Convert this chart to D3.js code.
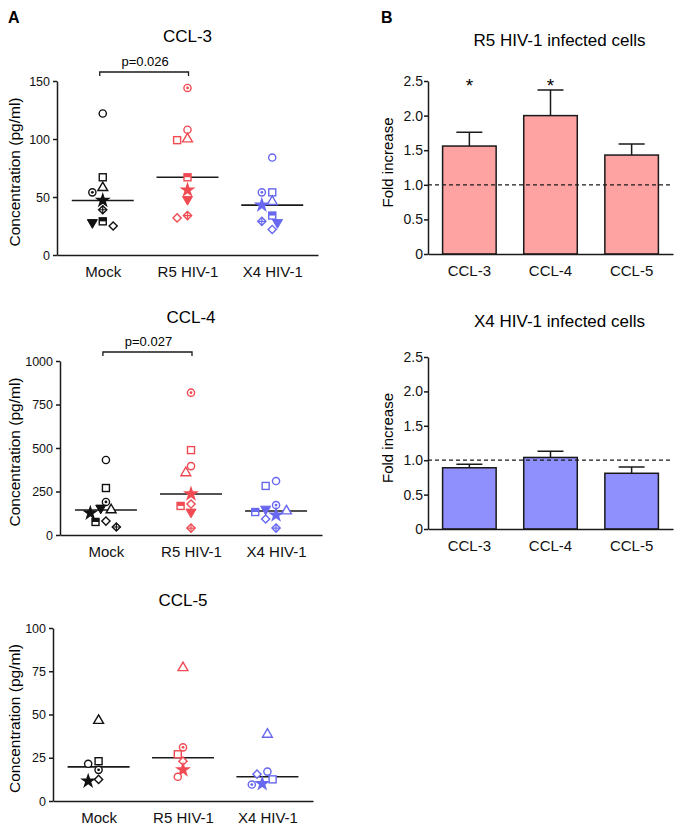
<!DOCTYPE html>
<html>
<head>
<meta charset="utf-8">
<script src="https://cdnjs.cloudflare.com/ajax/libs/d3/7.8.5/d3.min.js"></script>
<style>
  body { margin: 0; background: #fff; }
  svg { display: block; font-family: "Liberation Sans", Arial, Helvetica, sans-serif; }
</style>
</head>
<body>
<div id="chart"></div>
<script>
// ---- data ----
var groups = ["Mock", "R5 HIV-1", "X4 HIV-1"];
var donors9 = ["circle", "square", "triangle", "dotCircle", "star", "crossDiamond", "halfSquare", "diamond", "downTriangle"];
var donors6 = ["circle", "square", "triangle", "dotCircle", "star", "diamond"];

// CCL-3 (pg/ml), one value per donor (donors9 order)
var ccl3Mock = [122, 67, 58, 54, 47, 39, 29, 25, 28];
var ccl3R5   = [108, 99, 100, 144, 56, 34, 67, 32, 48];
var ccl3X4   = [84, 54, 46, 54, 43, 29, 34, 22, 28];
var ccl3Ticks = [0, 50, 100, 150];

// CCL-4 (pg/ml)
var ccl4Mock = [431, 270, 144, 190, 126, 46, 75, 80, 155];
var ccl4R5   = [396, 488, 357, 818, 236, 40, 167, 178, 132];
var ccl4X4   = [310, 282, 138, 172, 115, 40, 132, 92, 149];
var ccl4Ticks = [0, 250, 500, 750, 1000];

// CCL-5 (pg/ml), donors6 order
var ccl5Mock = [21.5, 23, 46.5, 18, 11.5, 12.5];
var ccl5R5   = [14, 27, 77, 31, 18, 23];
var ccl5X4   = [17, 12.5, 38.5, 9.5, 10, 15.5];
var ccl5Ticks = [0, 25, 50, 75, 100];

// panel B: fold increase, mean and SEM
var foldCats = ["CCL-3", "CCL-4", "CCL-5"];
var r5Fold  = [1.56, 2.00, 1.43];
var r5Sem   = [0.20, 0.37, 0.16];
var r5Stars = ["*", "*", ""];
var x4Fold  = [0.89, 1.04, 0.81];
var x4Sem   = [0.05, 0.09, 0.09];
var x4Stars = ["", "", ""];
var foldTicks = [0, 0.5, 1.0, 1.5, 2.0, 2.5];

var groupColor = d3.scaleOrdinal().domain(groups).range(["#111111", "#f04b53", "#6767f0"]);
var ink = "#1a1a1a";

var svg = d3.select("#chart").append("svg")
    .attr("width", 685)
    .attr("height", 840);

// panel letters
svg.append("text").attr("x", 8).attr("y", 23).attr("font-size", 16).attr("font-weight", "bold").text("A");
svg.append("text").attr("x", 381).attr("y", 23).attr("font-size", 16).attr("font-weight", "bold").text("B");

function styleAxis(g, fs) {
  g.attr("font-family", null).attr("font-size", fs);
  g.selectAll(".domain").attr("stroke", ink).attr("stroke-width", 1.5);
  g.selectAll(".tick line").attr("stroke", ink).attr("stroke-width", 1.5);
  g.selectAll(".tick text").attr("fill", "#111");
}

// one marker per donor shape
function drawMarker(g, shape, col) {
  var sw = 1.4;
  if (shape === "circle") {
    g.append("circle").attr("r", 3.6).attr("fill", "#fff").attr("stroke", col).attr("stroke-width", sw);
  } else if (shape === "dotCircle") {
    g.append("circle").attr("r", 3.6).attr("fill", "#fff").attr("stroke", col).attr("stroke-width", sw);
    g.append("circle").attr("r", 1.4).attr("fill", col);
  } else if (shape === "square") {
    g.append("rect").attr("x", -3.5).attr("y", -3.5).attr("width", 7).attr("height", 7)
      .attr("fill", "#fff").attr("stroke", col).attr("stroke-width", sw);
  } else if (shape === "halfSquare") {
    g.append("rect").attr("x", -3.5).attr("y", -3.5).attr("width", 7).attr("height", 7)
      .attr("fill", "#fff").attr("stroke", col).attr("stroke-width", sw);
    g.append("rect").attr("x", -3.5).attr("y", -3.5).attr("width", 7).attr("height", 3.5).attr("fill", col);
  } else if (shape === "triangle") {
    g.append("path").attr("d", d3.symbol(d3.symbolTriangle, 42)())
      .attr("fill", "#fff").attr("stroke", col).attr("stroke-width", sw);
  } else if (shape === "downTriangle") {
    g.append("path").attr("d", d3.symbol(d3.symbolTriangle, 44)()).attr("transform", "rotate(180)")
      .attr("fill", col).attr("stroke", col).attr("stroke-width", 1);
  } else if (shape === "star") {
    g.append("path").attr("d", d3.symbol(d3.symbolStar, 80)()).attr("fill", col);
  } else if (shape === "diamond") {
    g.append("rect").attr("x", -2.9).attr("y", -2.9).attr("width", 5.8).attr("height", 5.8).attr("transform", "rotate(45)")
      .attr("fill", "#fff").attr("stroke", col).attr("stroke-width", sw);
  } else if (shape === "crossDiamond") {
    g.append("rect").attr("x", -2.9).attr("y", -2.9).attr("width", 5.8).attr("height", 5.8).attr("transform", "rotate(45)")
      .attr("fill", "#fff").attr("stroke", col).attr("stroke-width", sw);
    g.append("path").attr("d", "M-4,0H4M0,-4V4").attr("stroke", col).attr("stroke-width", 1.2);
  }
}

function scatter(o) {
  var x = d3.scalePoint().domain(groups).range([o.left, o.right]).padding(0.54);
  var y = d3.scaleLinear().domain([0, o.ticks[o.ticks.length - 1]]).range([o.bottom, o.top]);

  svg.append("text")
    .attr("x", (o.left + o.right) / 2).attr("y", o.titleY)
    .attr("text-anchor", "middle").attr("font-size", 17).text(o.title);

  svg.append("text")
    .attr("transform", "translate(20," + ((o.top + o.bottom) / 2 + 4) + ") rotate(-90)")
    .attr("text-anchor", "middle").attr("font-size", 15.5).text("Concentration (pg/ml)");

  var ya = svg.append("g").attr("transform", "translate(" + o.left + ",0)")
    .call(d3.axisLeft(y).tickValues(o.ticks).tickSize(4).tickPadding(3).tickSizeOuter(0).tickFormat(d3.format("d")));
  styleAxis(ya, 12.5);

  var xa = svg.append("g").attr("transform", "translate(0," + o.bottom + ")")
    .call(d3.axisBottom(x).tickSize(0).tickPadding(11).tickSizeOuter(0));
  styleAxis(xa, 15);

  // p-value bracket between Mock and R5
  if (o.p) {
    var by = o.top - 9;
    svg.append("path")
      .attr("d", "M" + (x(groups[0]) - 3) + "," + (by + 4) + "V" + by + "H" + (x(groups[1]) + 1) + "V" + (by + 4))
      .attr("fill", "none").attr("stroke", ink).attr("stroke-width", 1.3);
    svg.append("text").attr("x", (x(groups[0]) + x(groups[1])) / 2).attr("y", by - 6)
      .attr("text-anchor", "middle").attr("font-size", 13).text(o.p);
  }

  groups.forEach(function(grp, gi) {
    var vals = o.values[gi];
    var med = d3.median(vals);
    var cx = x(grp);
    svg.append("line")
      .attr("x1", cx - 31).attr("x2", cx + 31)
      .attr("y1", y(med)).attr("y2", y(med))
      .attr("stroke", ink).attr("stroke-width", 1.6);

    // scatter-dot layout: push a point sideways until it no longer overlaps the ones already placed
    var pts = vals.map(function(v, di) { return { v: v, shape: o.donors[di], i: di, py: y(v) }; });
    pts.sort(function(a, b) { return a.py - b.py; });
    var placed = [];
    var steps = [0, -1, 1, -2, 2, -3, 3, -4, 4];
    pts.forEach(function(p) {
      for (var s = 0; s < steps.length; s++) {
        var px = cx + steps[s] * 5.2;
        var hit = placed.some(function(q) {
          var dx = q.px - px, dy = q.py - p.py;
          return dx * dx + dy * dy < 8 * 8;
        });
        if (!hit) { p.px = px; break; }
      }
      if (p.px === undefined) p.px = cx;
      placed.push(p);
    });

    pts.forEach(function(p) {
      var g = svg.append("g").attr("transform", "translate(" + p.px + "," + p.py + ")");
      drawMarker(g, p.shape, groupColor(grp));
    });
  });
}

scatter({ title: "CCL-3", titleY: 42, p: "p=0.026", left: 57, right: 318, top: 81, bottom: 255,
  ticks: ccl3Ticks, donors: donors9, values: [ccl3Mock, ccl3R5, ccl3X4] });
scatter({ title: "CCL-4", titleY: 323, p: "p=0.027", left: 60, right: 322, top: 361, bottom: 535,
  ticks: ccl4Ticks, donors: donors9, values: [ccl4Mock, ccl4R5, ccl4X4] });
scatter({ title: "CCL-5", titleY: 606, p: null, left: 53, right: 313, top: 628, bottom: 801,
  ticks: ccl5Ticks, donors: donors6, values: [ccl5Mock, ccl5R5, ccl5X4] });

function bars(o) {
  var x = d3.scaleBand().domain(foldCats).range([o.left, o.right]).paddingInner(0.34).paddingOuter(0.18);
  var y = d3.scaleLinear().domain([0, 2.5]).range([o.bottom, o.top]);

  svg.append("text")
    .attr("x", (o.left + o.right) / 2 + 9).attr("y", o.titleY)
    .attr("text-anchor", "middle").attr("font-size", 17).text(o.title);

  svg.append("text")
    .attr("transform", "translate(393," + ((o.top + o.bottom) / 2 - 5) + ") rotate(-90)")
    .attr("text-anchor", "middle").attr("font-size", 15).text("Fold increase");

  // error bars (upper only)
  o.means.forEach(function(m, i) {
    var cx = x(foldCats[i]) + x.bandwidth() / 2;
    svg.append("path")
      .attr("d", "M" + cx + "," + y(m) + "V" + y(m + o.sem[i]) + "M" + (cx - 13) + "," + y(m + o.sem[i]) + "H" + (cx + 13))
      .attr("fill", "none").attr("stroke", ink).attr("stroke-width", 1.5);
    if (o.stars[i]) {
      svg.append("text").attr("x", cx).attr("y", y(2.5) + 11)
        .attr("text-anchor", "middle").attr("font-size", 19).text(o.stars[i]);
    }
  });

  svg.selectAll(null).data(o.means).enter().append("rect")
    .attr("x", function(d, i) { return x(foldCats[i]); })
    .attr("y", function(d) { return y(d); })
    .attr("width", x.bandwidth())
    .attr("height", function(d) { return y(0) - y(d); })
    .attr("fill", o.fill).attr("stroke", ink).attr("stroke-width", 1.5);

  // reference line at 1.0
  svg.append("line")
    .attr("x1", o.left).attr("x2", o.right)
    .attr("y1", y(1)).attr("y2", y(1))
    .attr("stroke", ink).attr("stroke-width", 1.3).attr("stroke-dasharray", "4,3");

  var ya = svg.append("g").attr("transform", "translate(" + o.left + ",0)")
    .call(d3.axisLeft(y).tickValues(foldTicks).tickSize(4).tickPadding(1).tickSizeOuter(0)
      .tickFormat(function(d) { return d === 0 ? "0" : d3.format(".1f")(d); }));
  styleAxis(ya, 14);

  var xa = svg.append("g").attr("transform", "translate(0," + o.bottom + ")")
    .call(d3.axisBottom(x).tickSize(0).tickPadding(11).tickSizeOuter(0));
  styleAxis(xa, 15);
}

bars({ title: "R5 HIV-1 infected cells", titleY: 46, left: 428, right: 673, top: 81, bottom: 254,
  means: r5Fold, sem: r5Sem, stars: r5Stars, fill: "#ffa2a2" });
bars({ title: "X4 HIV-1 infected cells", titleY: 327, left: 428, right: 673, top: 357, bottom: 529,
  means: x4Fold, sem: x4Sem, stars: x4Stars, fill: "#8f8ffd" });
</script>
</body>
</html>
